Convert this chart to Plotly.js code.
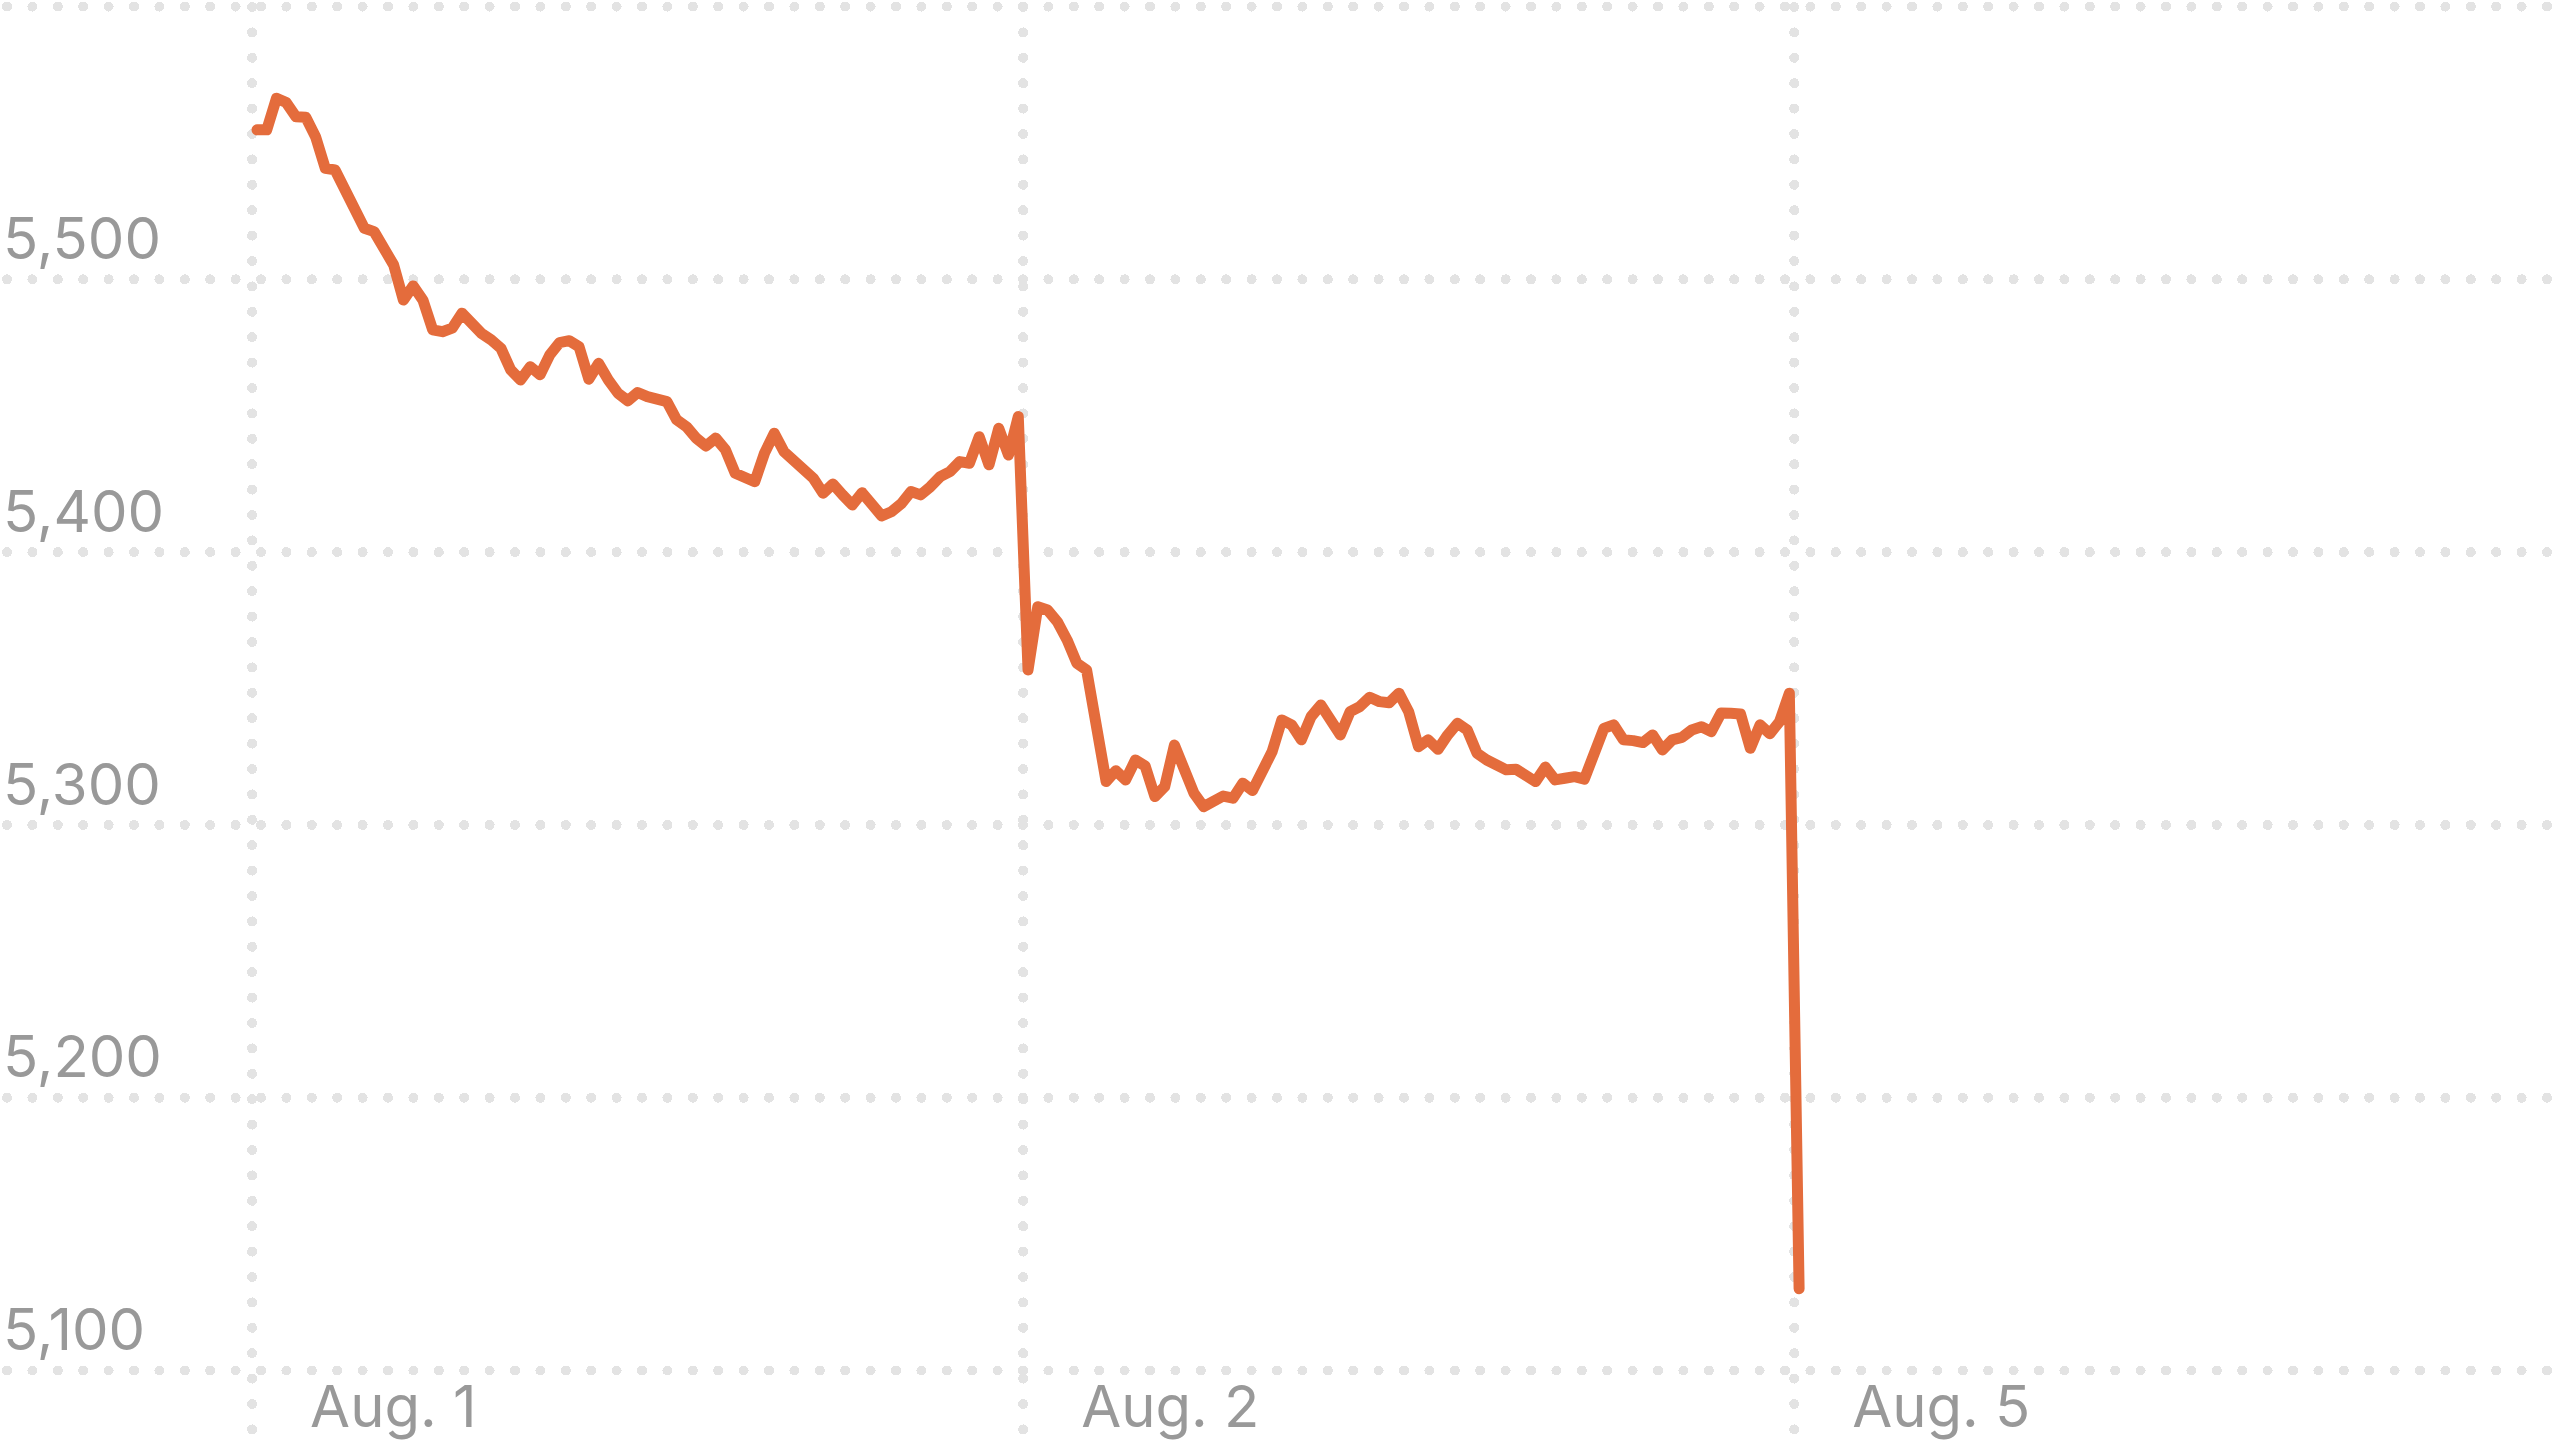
<!DOCTYPE html>
<html>
<head>
<meta charset="utf-8">
<script src="https://cdn.plot.ly/plotly-3.0.1.min.js"></script>
<style>
  html, body { margin: 0; padding: 0; background: #ffffff; }
  #chart { width: 2560px; height: 1442px; }
  .xgrid, .ygrid { stroke-linecap: round; stroke-dashoffset: -7px; }
  .scatterlayer .js-line { stroke-linejoin: round; stroke-linecap: round; }
</style>
</head>
<body>
<div id="chart"></div>
<script>
// S&P 500, 5-minute closes
const aug1Close = [
  5554.8, 5554.8, 5566.4, 5564.8, 5559.6, 5559.4, 5552.3, 5540.7, 5540.1, 5532.8,
  5527.6, 5518.7, 5517.5, 5512.0, 5505.3, 5492.4, 5497.6, 5492.4, 5481.5, 5480.8,
  5482.1, 5487.6, 5483.3, 5480.2, 5477.8, 5474.7, 5466.8, 5463.1, 5468.0, 5465.0,
  5472.3, 5476.8, 5477.5, 5475.3, 5463.4, 5469.2, 5463.1, 5458.2, 5455.5, 5458.5,
  5457.0, 5456.0, 5455.2, 5448.5, 5446.0, 5441.8, 5438.9, 5441.8, 5437.5, 5428.9,
  5427.7, 5425.8, 5436.3, 5443.6, 5436.8, 5433.8, 5430.8, 5427.1, 5421.6, 5425.0,
  5421.0, 5417.3, 5421.8, 5416.7, 5413.3, 5414.8, 5417.7, 5422.2, 5421.0, 5424.0,
  5427.7, 5429.5, 5433.2, 5432.6, 5442.3, 5432.0, 5445.4, 5435.6, 5449.7
];
const aug2Close = [
  5356.8, 5380.0, 5378.8, 5374.5, 5367.8, 5359.3, 5356.8, 5336.7, 5315.9, 5319.9,
  5316.5, 5323.8, 5321.6, 5310.4, 5314.0, 5329.3, 5320.8, 5311.6, 5306.7, 5308.5,
  5310.6, 5309.8, 5315.3, 5312.6, 5320.2, 5326.8, 5338.5, 5336.7, 5331.2, 5339.7,
  5344.0, 5338.5, 5333.0, 5341.5, 5343.4, 5346.8, 5345.2, 5344.8, 5348.3, 5341.5,
  5328.7, 5331.2, 5327.7, 5333.0, 5337.3, 5334.8, 5326.3, 5323.8, 5322.4, 5320.2,
  5320.4, 5317.7, 5315.9, 5321.2, 5316.5, 5317.1, 5317.7, 5316.8, 5325.0, 5335.4,
  5336.7, 5331.2, 5330.9, 5330.2, 5333.0, 5327.5, 5331.2, 5332.1, 5334.8, 5336.0,
  5334.2, 5341.0, 5340.9, 5340.7, 5328.1, 5336.7, 5333.4, 5337.9, 5348.3
];
const aug5Close = [5130.0];

const days = [aug1Close, aug2Close, aug5Close];
const dayLabels = ['Aug. 1', 'Aug. 2', 'Aug. 5'];
const yTickValues = [5100, 5200, 5300, 5400, 5500, 5600];
const yTickLabels = ['5,100', '5,200', '5,300', '5,400', '5,500', ''];

// each 5-minute bar is one step on the x axis; day boundaries sit half a step before a day's first bar
const xs = [], ys = [], dayStarts = [];
let n = 0;
days.forEach(function (d) {
  dayStarts.push(n - 0.5);
  d.forEach(function (v) { xs.push(n); ys.push(v); n++; });
});

const xRange = [-26.33, 235.96];
const yRange = [5073.8, 5602.4];
const gridColor = '#e3e3e3';
const labelFont = { family: 'Inter, Liberation Sans, Arial, sans-serif', size: 58, color: '#999999' };

const priceTrace = {
  type: 'scatter',
  mode: 'lines',
  x: xs,
  y: ys,
  xaxis: 'x',
  yaxis: 'y',
  line: { color: '#e46c3c', width: 11 },
  hoverinfo: 'skip'
};
// carrier for the date-label axis (same data, not drawn)
const labelTrace = {
  type: 'scatter',
  mode: 'lines',
  x: xs,
  y: ys,
  xaxis: 'x2',
  yaxis: 'y2',
  line: { color: 'rgba(0,0,0,0)', width: 0 },
  hoverinfo: 'skip'
};

const layout = {
  width: 2560,
  height: 1442,
  margin: { l: 0, r: 0, t: 0, b: 0, pad: 0 },
  paper_bgcolor: '#ffffff',
  plot_bgcolor: '#ffffff',
  showlegend: false,
  xaxis: {
    range: xRange,
    tickmode: 'array',
    tickvals: dayStarts,
    showticklabels: false,
    ticks: '',
    showline: false,
    zeroline: false,
    showgrid: true,
    gridcolor: gridColor,
    gridwidth: 10,
    griddash: '0px,25.4px',
    fixedrange: true
  },
  yaxis: {
    range: yRange,
    tickmode: 'array',
    tickvals: yTickValues,
    ticktext: yTickLabels,
    ticklabelposition: 'inside top',
    ticklabelstandoff: 0,
    ticks: '',
    showline: false,
    zeroline: false,
    showgrid: true,
    gridcolor: gridColor,
    gridwidth: 10,
    griddash: '0px,25.4px',
    tickfont: labelFont,
    fixedrange: true
  },
  xaxis2: {
    overlaying: 'x',
    anchor: 'y2',
    side: 'bottom',
    range: xRange,
    tickmode: 'array',
    tickvals: dayStarts,
    ticktext: dayLabels,
    ticklabelposition: 'inside right',
    ticklabelshift: 58,
    ticklabelstandoff: -3,
    ticks: '',
    showline: false,
    zeroline: false,
    showgrid: false,
    tickfont: labelFont,
    fixedrange: true
  },
  yaxis2: {
    overlaying: 'y',
    anchor: 'x2',
    range: yRange,
    showticklabels: false,
    ticks: '',
    showline: false,
    zeroline: false,
    showgrid: false,
    fixedrange: true
  }
};

Plotly.newPlot('chart', [priceTrace, labelTrace], layout, { staticPlot: true, displayModeBar: false });
</script>
</body>
</html>
